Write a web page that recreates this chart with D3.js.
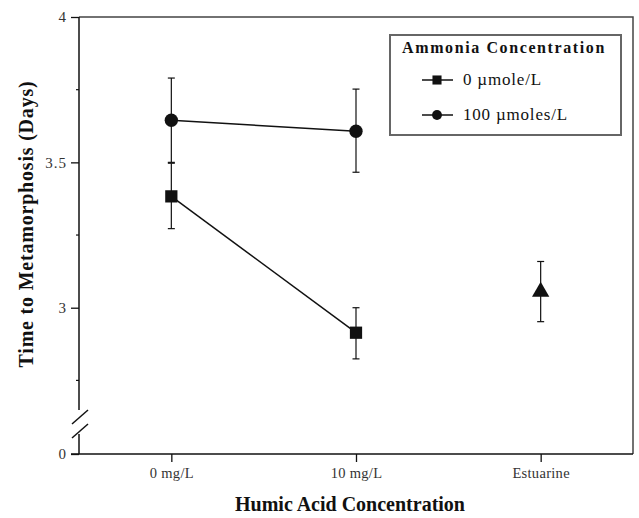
<!DOCTYPE html>
<html>
<head>
<meta charset="utf-8">
<script src="https://cdn.jsdelivr.net/npm/d3@7"></script>
<style>
    body { margin: 0; background: #fff; }
    svg text { font-family: "Liberation Serif", "Times New Roman", serif; fill: #111; }
    .tick-label { font-size: 15px; fill: #333; letter-spacing: 1px; }
    .axis-title { font-size: 20px; font-weight: bold; }
    .legend-title { font-size: 16px; font-weight: bold; letter-spacing: 1.6px; }
    .legend-text { font-size: 17px; letter-spacing: 0.8px; }
</style>
</head>
<body>
<div id="chart"></div>
<script>
// categories on the x axis
var categories = ["0 mg/L", "10 mg/L", "Estuarine"];

// 0 umole/L ammonia (squares)
var ammonia0 = [3.383, 2.914];
var ammonia0Upper = [3.497, 3.0];
var ammonia0Lower = [3.272, 2.824];

// 100 umoles/L ammonia (circles)
var ammonia100 = [3.645, 3.607];
var ammonia100Upper = [3.79, 3.752];
var ammonia100Lower = [3.5, 3.466];

// estuarine water (triangle)
var estuarine = [3.055];
var estuarineUpper = [3.159];
var estuarineLower = [2.952];

var yMajorTicks = [0, 3, 3.5, 4];
var yMinorTicks = [2.75, 3.25, 3.75];

var width = 639, height = 518;

var svg = d3.select("#chart").append("svg")
    .attr("width", width)
    .attr("height", height);

var plot = {left: 79, right: 633};

var xScale = d3.scalePoint()
    .domain(categories)
    .range([plot.left, plot.right])
    .padding(0.5);

// broken axis: 0 sits at the bottom, then a gap, then 2.6 .. 4
var yScale = d3.scaleLinear()
    .domain([0, 2.6, 4])
    .range([454, 424, 17]);

var black = "#111";

// frame: top and right border
svg.append("path")
    .attr("d", "M" + plot.left + "," + yScale(4) + "H" + plot.right + "V" + yScale(0))
    .attr("fill", "none")
    .attr("stroke", "#444")
    .attr("stroke-width", 1.5);

// x axis
var xAxis = d3.axisBottom(xScale).tickSize(8).tickPadding(6);
var xg = svg.append("g")
    .attr("transform", "translate(0," + yScale(0) + ")")
    .call(xAxis);
xg.select(".domain").remove();
xg.selectAll(".tick line").attr("stroke", black).attr("stroke-width", 1.3);
xg.selectAll(".tick text")
    .attr("class", "tick-label")
    .style("font-size", "14.5px")
    .style("letter-spacing", "0.3px");

svg.append("line")
    .attr("x1", plot.left - 8).attr("x2", plot.right)
    .attr("y1", yScale(0)).attr("y2", yScale(0))
    .attr("stroke", black).attr("stroke-width", 1.5);

// y axis
var yAxis = d3.axisLeft(yScale)
    .tickValues(yMajorTicks)
    .tickSize(8)
    .tickPadding(4)
    .tickFormat(d3.format("~g"));
var yg = svg.append("g")
    .attr("transform", "translate(" + plot.left + ",0)")
    .call(yAxis);
yg.select(".domain").remove();
yg.selectAll(".tick line").attr("stroke", black).attr("stroke-width", 1.3);
yg.selectAll(".tick text").attr("class", "tick-label");

yg.selectAll(".minor")
    .data(yMinorTicks)
    .enter().append("line")
    .attr("class", "minor")
    .attr("x1", -3).attr("x2", 0)
    .attr("y1", function(d) { return yScale(d); })
    .attr("y2", function(d) { return yScale(d); })
    .attr("stroke", black).attr("stroke-width", 1.2);

// axis line with the break
var breakTop = yScale(0) - 44, breakBottom = yScale(0) - 20;
yg.append("line")
    .attr("x1", 0).attr("x2", 0)
    .attr("y1", yScale(4)).attr("y2", breakTop)
    .attr("stroke", black).attr("stroke-width", 1.5);
yg.append("line")
    .attr("x1", 0).attr("x2", 0)
    .attr("y1", breakBottom).attr("y2", yScale(0))
    .attr("stroke", black).attr("stroke-width", 1.5);
[breakTop, breakTop + 14].forEach(function(y0) {
    yg.append("line")
        .attr("x1", -7).attr("y1", y0 + 14)
        .attr("x2", 9).attr("y2", y0)
        .attr("stroke", black).attr("stroke-width", 1.5);
});

// axis titles
svg.append("text")
    .attr("class", "axis-title")
    .attr("x", 350)
    .attr("y", 511)
    .attr("text-anchor", "middle")
    .text("Humic Acid Concentration");

svg.append("text")
    .attr("class", "axis-title")
    .attr("transform", "translate(33,224) rotate(-90)")
    .attr("text-anchor", "middle")
    .style("letter-spacing", "0.8px")
    .text("Time to Metamorphosis (Days)");

// series
var series = [
    {key: "0 µmole/L", shape: d3.symbolSquare, size: 150, values: ammonia0, upper: ammonia0Upper, lower: ammonia0Lower, cats: categories.slice(0, 2)},
    {key: "100 µmoles/L", shape: d3.symbolCircle, size: 140, values: ammonia100, upper: ammonia100Upper, lower: ammonia100Lower, cats: categories.slice(0, 2)},
    {key: "Estuarine", shape: d3.symbolTriangle, size: 130, values: estuarine, upper: estuarineUpper, lower: estuarineLower, cats: categories.slice(2)}
];

var line = d3.line()
    .x(function(d) { return xScale(d.cat); })
    .y(function(d) { return yScale(d.value); });

series.forEach(function(s) {
    var pts = s.values.map(function(v, i) {
        return {cat: s.cats[i], value: v, hi: s.upper[i], lo: s.lower[i]};
    });
    var g = svg.append("g");

    // error bars
    pts.forEach(function(p) {
        var x = xScale(p.cat);
        g.append("line")
            .attr("x1", x).attr("x2", x)
            .attr("y1", yScale(p.hi)).attr("y2", yScale(p.lo))
            .attr("stroke", black).attr("stroke-width", 1.2);
        [p.hi, p.lo].forEach(function(v) {
            g.append("line")
                .attr("x1", x - 3.5).attr("x2", x + 3.5)
                .attr("y1", yScale(v)).attr("y2", yScale(v))
                .attr("stroke", black).attr("stroke-width", 1.2);
        });
    });

    if (pts.length > 1) {
        g.append("path")
            .attr("d", line(pts))
            .attr("fill", "none")
            .attr("stroke", black)
            .attr("stroke-width", 1.5);
    }

    g.selectAll(".marker")
        .data(pts)
        .enter().append("path")
        .attr("class", "marker")
        .attr("transform", function(d) {
            return "translate(" + xScale(d.cat) + "," + yScale(d.value) + ")";
        })
        .attr("d", d3.symbol().type(s.shape).size(s.size))
        .attr("fill", black);
});

// legend
var legend = svg.append("g").attr("transform", "translate(390,35)");
legend.append("rect")
    .attr("width", 231).attr("height", 100)
    .attr("fill", "#fff")
    .attr("stroke", "#666")
    .attr("stroke-width", 2);
legend.append("text")
    .attr("class", "legend-title")
    .attr("x", 114).attr("y", 18)
    .attr("text-anchor", "middle")
    .text("Ammonia Concentration");

var rows = legend.selectAll(".row")
    .data(series.slice(0, 2))
    .enter().append("g")
    .attr("class", "row")
    .attr("transform", function(d, i) { return "translate(0," + (45 + i * 35) + ")"; });
rows.append("line")
    .attr("x1", 32).attr("x2", 63)
    .attr("stroke", black).attr("stroke-width", 1.5);
rows.append("path")
    .attr("transform", "translate(47,0)")
    .attr("d", function(d) { return d3.symbol().type(d.shape).size(d.size * 0.55)(); })
    .attr("fill", black);
rows.append("text")
    .attr("class", "legend-text")
    .attr("x", 73).attr("y", 5)
    .text(function(d) { return d.key; });
</script>
</body>
</html>
